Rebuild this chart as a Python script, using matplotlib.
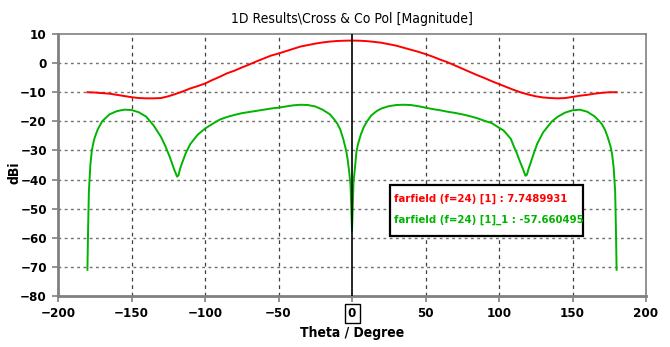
import matplotlib
matplotlib.use("Agg")
import matplotlib.pyplot as plt
from matplotlib.patches import Rectangle

plt.rcParams['font.family'] = ['DejaVu Sans']
plt.rcParams['font.stretch'] = 'condensed'

# Co-polar far-field cut (dBi) versus theta (degrees)
theta_co = [-180, -175, -170, -165, -160, -155, -150, -145, -140, -135, -130, -125,
            -120, -115, -110, -105, -100, -95, -90, -85, -80, -75, -70, -65, -60,
            -55, -50, -45, -40, -35, -30, -25, -20, -15, -10, -5, 0,
            5, 10, 15, 20, 25, 30, 35, 40, 45, 50, 55, 60, 65, 70, 75, 80, 85,
            90, 95, 100, 105, 110, 115, 120, 125, 130, 135, 140, 145, 150, 155,
            160, 165, 170, 175, 180]
co_pol = [-10.0, -10.1, -10.3, -10.5, -10.9, -11.3, -11.7, -12.0, -12.1, -12.1, -12.0, -11.4,
          -10.6, -9.7, -8.7, -7.9, -7.0, -5.8, -4.7, -3.5, -2.6, -1.5, -0.5, 0.6, 1.6,
          2.6, 3.3, 4.1, 4.9, 5.7, 6.2, 6.7, 7.1, 7.4, 7.6, 7.7, 7.7489931,
          7.7, 7.55, 7.3, 7.0, 6.5, 6.0, 5.3, 4.6, 3.9, 3.1, 2.2, 1.2, 0.3, -0.8, -1.9, -3.0, -4.1,
          -5.1, -6.2, -7.2, -8.2, -9.2, -10.1, -10.8, -11.4, -11.8, -12.0, -12.1, -12.0, -11.6, -11.2,
          -10.9, -10.5, -10.2, -10.0, -10.0]

# Cross-polar far-field cut (dBi) versus theta (degrees)
theta_x = [-180, -179.5, -179, -178, -177, -176, -175, -173, -170, -165, -160, -155,
           -150, -145, -140, -135, -130, -127, -124, -121, -119, -118, -117, -115,
           -113, -110, -105, -100, -95, -90, -85, -80, -75, -70, -65, -60, -55,
           -50, -45, -40, -35, -30, -25, -20, -15, -12, -10, -8, -6, -4, -3, -2, -1, 0,
           1, 2, 3, 4, 6, 8, 10, 13, 17, 20, 25, 30, 35, 40, 45, 50, 55, 60, 65,
           70, 75, 80, 85, 90, 95, 100, 103, 106, 108, 110, 112, 114, 116, 118,
           119, 120, 122, 124, 126, 130, 133, 136, 140, 145, 150, 155, 160, 165,
           168, 170, 172, 174, 176, 177, 178, 179, 179.5, 180]
cross_pol = [-71.0, -56.0, -44.0, -35.0, -30.0, -27.5, -25.5, -22.8, -20.0, -17.6, -16.5, -16.0,
             -16.1, -16.9, -18.4, -21.4, -25.3, -28.5, -32.2, -36.5, -39.0, -38.5, -36.3, -33.5,
             -30.8, -27.8, -24.6, -22.5, -20.9, -19.4, -18.5, -17.8, -17.2, -16.8, -16.4, -16.0, -15.6,
             -15.3, -14.9, -14.5, -14.3, -14.4, -14.9, -16.0, -17.6, -19.4, -20.8, -22.8, -26.0, -30.0,
             -33.0, -37.0, -42.0, -57.660495,
             -41.0, -36.0, -30.5, -28.0, -24.5, -22.0, -20.2, -18.0, -16.4, -15.6, -14.8, -14.4, -14.3,
             -14.4, -14.8, -15.3, -15.8, -16.2, -16.7,
             -17.1, -17.6, -18.2, -18.9, -19.8, -20.6, -22.2, -23.1, -24.8, -26.0, -28.5, -30.8,
             -33.5, -36.0, -38.7,
             -38.3, -36.5, -33.5, -30.5, -27.7, -23.8, -21.9, -20.0, -18.4, -17.0, -16.2, -16.0,
             -16.7, -18.3,
             -19.8, -21.0, -22.8, -25.5, -28.9, -31.5, -36.0, -44.0, -56.0, -71.0]

x_ticks = [-200, -150, -100, -50, 0, 50, 100, 150, 200]
y_ticks = [10, 0, -10, -20, -30, -40, -50, -60, -70, -80]
marker_theta = 0

co_label = "farfield (f=24) [1]"
cross_label = "farfield (f=24) [1]_1"

red = "#ff0000"
green = "#00b400"
gray = "#808080"

fig = plt.figure(figsize=(6.70, 3.47), dpi=100)
ax = fig.add_axes([0.0866, 0.147, 0.8776, 0.755])

ax.plot(theta_co, co_pol, color=red, lw=1.4, zorder=3)
ax.plot(theta_x, cross_pol, color=green, lw=1.4, zorder=3)

ax.set_xlim(-200, 200)
ax.set_ylim(-80, 10)
ax.set_xticks(x_ticks)
ax.set_yticks(y_ticks)

# grid: dotted horizontals, dashed verticals, inner lines only
for y in y_ticks[1:-1]:
    ax.axhline(y, color="#707070", lw=1.0, ls=(0, (2, 2.5)), zorder=1)
for x in x_ticks[1:-1]:
    if x != marker_theta:
        ax.axvline(x, color="#404040", lw=0.9, ls=(0, (3, 3)), zorder=1)

# marker line
ax.axvline(marker_theta, color="black", lw=1.2, zorder=4)

for s in ax.spines.values():
    s.set_color(gray)
    s.set_linewidth(1.2)
ax.spines['left'].set_linewidth(2.0)
ax.spines['bottom'].set_linewidth(2.0)

ax.tick_params(axis='both', direction='out', length=4, width=1.2, color=gray,
               labelsize=9.5, labelcolor='black', pad=4)
for lab in ax.get_xticklabels() + ax.get_yticklabels():
    lab.set_fontweight('bold')

# box round the marker position on the theta axis
mi = x_ticks.index(marker_theta)
ax.xaxis.get_major_ticks()[mi].label1.set_bbox(
    dict(facecolor='white', edgecolor='black', linewidth=1.0, boxstyle='square,pad=0.25'))

ax.set_xlabel("Theta / Degree", fontsize=10, fontweight='bold', labelpad=4)
ax.set_ylabel("dBi", fontsize=10, fontweight='bold')
ax.yaxis.set_label_coords(-0.062, 0.47)
ax.set_title("1D Results\\Cross & Co Pol [Magnitude]", fontsize=10, pad=8)

# marker readout box
i_co = theta_co.index(marker_theta)
i_x = theta_x.index(marker_theta)
ax.add_patch(Rectangle((0.565, 0.229), 0.328, 0.195, transform=ax.transAxes,
                       facecolor='white', edgecolor='black', lw=1.6, zorder=5))
ax.text(0.571, 0.372, f"{co_label} : {co_pol[i_co]}", transform=ax.transAxes,
        color=red, fontsize=8.1, fontweight='bold', va='center', ha='left', zorder=6)
ax.text(0.571, 0.292, f"{cross_label} : {cross_pol[i_x]}", transform=ax.transAxes,
        color=green, fontsize=8.1, fontweight='bold', va='center', ha='left', zorder=6)

fig.savefig("out.png", dpi=100)
